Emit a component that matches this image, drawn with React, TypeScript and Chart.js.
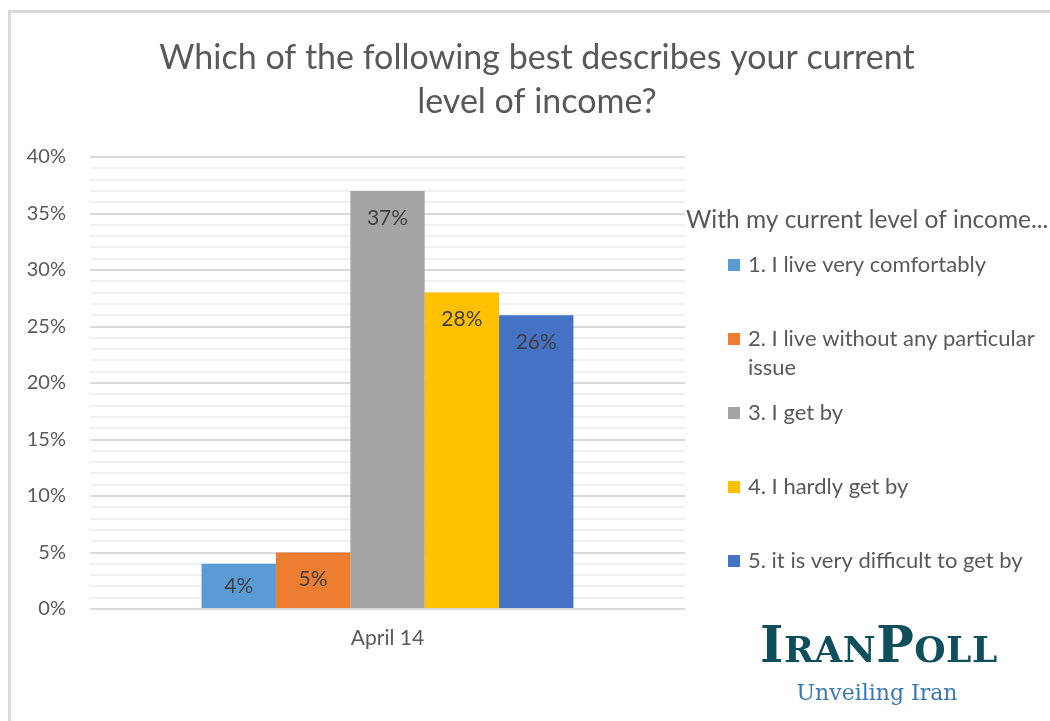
import React, { useEffect, useRef } from "react";
import { Chart, registerables } from "chart.js";

Chart.register(...registerables);

const categories = ["April 14"];
const seriesNames = [
  "1. I live very comfortably",
  "2. I live without any particular issue",
  "3. I get by",
  "4. I hardly get by",
  "5. it is very difficult to get by",
];
const seriesValues = [4, 5, 37, 28, 26];
const seriesColors = ["#5B9BD5", "#ED7D31", "#A5A5A5", "#FFC000", "#4472C4"];
const titleLines = ["Which of the following best describes your current", "level of income?"];
const legendTitle = "With my current level of income...";
const yMin = 0;
const yMax = 40;
const yMajorStep = 5;
const logoParts = [
  { t: "I", big: true },
  { t: "RAN", big: false },
  { t: "P", big: true },
  { t: "OLL", big: false },
];
const logoTagline = "Unveiling Iran";

const TEXT = "#595959";
const FONT = "Lato, 'Noto Sans', sans-serif";

function wrapText(ctx: CanvasRenderingContext2D, text: string, maxW: number): string[] {
  const words = text.split(" ");
  const lines: string[] = [];
  let cur = "";
  for (const w of words) {
    const test = cur ? cur + " " + w : w;
    if (ctx.measureText(test).width > maxW && cur) {
      lines.push(cur);
      cur = w;
    } else cur = test;
  }
  if (cur) lines.push(cur);
  return lines;
}

const overlayPlugin = {
  id: "overlay",
  afterDraw(chart: any) {
    const ctx: CanvasRenderingContext2D = chart.ctx;
    const W = chart.width;
    ctx.save();

    // Title
    ctx.fillStyle = TEXT;
    ctx.font = `34px ${FONT}`;
    ctx.textAlign = "center";
    ctx.textBaseline = "middle";
    titleLines.forEach((t, i) => ctx.fillText(t, 526, 45 + i * 44));

    // Bar value labels
    ctx.font = `21px ${FONT}`;
    ctx.fillStyle = "#404040";
    chart.data.datasets.forEach((ds: any, i: number) => {
      const meta = chart.getDatasetMeta(i);
      meta.data.forEach((bar: any, j: number) => {
        const v = ds.data[j];
        const y = Math.min(bar.y + 27, (bar.y + bar.base) / 2);
        ctx.fillText(v + "%", bar.x, y);
      });
    });

    // Legend
    ctx.textAlign = "left";
    ctx.fillStyle = TEXT;
    ctx.font = `24.5px ${FONT}`;
    ctx.fillText(legendTitle, 675, 207);
    ctx.font = `22px ${FONT}`;
    chart.data.datasets.forEach((ds: any, i: number) => {
      const cy = 252 + i * 74;
      ctx.fillStyle = ds.backgroundColor;
      ctx.fillRect(717, cy - 6, 12, 12);
      ctx.fillStyle = TEXT;
      const lines = wrapText(ctx, ds.label, W - 737 - 4);
      lines.forEach((l, k) => ctx.fillText(l, 737, cy + k * 29));
    });

    // Logo
    ctx.textBaseline = "alphabetic";
    ctx.fillStyle = "#0F4E5B";
    let x = 749;
    for (const p of logoParts) {
      ctx.font = p.big ? `bold 50px 'DejaVu Serif', serif` : `bold 36px 'DejaVu Serif', serif`;
      for (const ch of p.t) {
        ctx.fillText(ch, x, 649);
        x += ctx.measureText(ch).width + 0.5;
      }
    }
    ctx.fillStyle = "#3A78B8";
    ctx.font = `22px 'DejaVu Serif', serif`;
    ctx.textAlign = "center";
    ctx.fillText(logoTagline, 866, 687);

    ctx.restore();
  },
};

export default function App() {
  const ref = useRef<HTMLCanvasElement | null>(null);
  useEffect(() => {
    let chart: Chart | null = null;
    let cancelled = false;
    const make = () => {
      if (cancelled || !ref.current) return;
      chart = new Chart(ref.current, {
        type: "bar",
        data: {
          labels: categories,
          datasets: seriesNames.map((n, i) => ({
            label: n,
            data: [seriesValues[i]],
            backgroundColor: seriesColors[i],
            borderWidth: 0,
            categoryPercentage: 0.625,
            barPercentage: 1,
          })),
        },
        options: {
          responsive: false,
          animation: false,
          devicePixelRatio: 1,
          layout: { padding: { left: 0, right: 365, top: 144, bottom: 0 } },
          plugins: {
            legend: { display: false },
            title: { display: false },
            tooltip: { enabled: false },
          },
          scales: {
            x: {
              grid: { display: false, drawTicks: false },
              border: { display: false },
              ticks: { color: TEXT, font: { family: FONT, size: 21 }, padding: 17 },
              afterFit: (s: any) => {
                s.height = 112;
              },
            },
            y: {
              min: yMin,
              max: yMax,
              border: { display: false },
              grid: {
                drawTicks: false,
                lineWidth: 2,
                color: (c: any) => (c.tick.value % yMajorStep === 0 ? "#D9D9D9" : "#F0F0F0"),
              },
              ticks: {
                stepSize: 1,
                autoSkip: false,
                color: TEXT,
                font: { family: FONT, size: 20 },
                padding: 24,
                callback: (v: any) => (Number(v) % yMajorStep === 0 ? v + "%" : ""),
              },
              afterFit: (s: any) => {
                s.width = 79;
              },
            },
          },
        },
        plugins: [overlayPlugin],
      } as any);
    };
    const fonts = (document as any).fonts;
    if (fonts && fonts.load) {
      Promise.all([
        fonts.load("20px Lato"),
        fonts.load("34px Lato"),
        fonts.load("22px 'DejaVu Serif'"),
        fonts.load("bold 36px 'DejaVu Serif'"),
      ])
        .catch(() => {})
        .then(make);
    } else make();
    return () => {
      cancelled = true;
      if (chart) chart.destroy();
    };
  }, []);

  return (
    <div
      style={{
        position: "fixed",
        left: 8,
        top: 10,
        width: 1042,
        height: 711,
        boxSizing: "border-box",
        borderLeft: "3px solid #D9D9D9",
        borderTop: "3px solid #D9D9D9",
        background: "#fff",
        overflow: "hidden",
      }}
    >
      <canvas ref={ref} width={1039} height={708} style={{ display: "block" }} />
    </div>
  );
}
